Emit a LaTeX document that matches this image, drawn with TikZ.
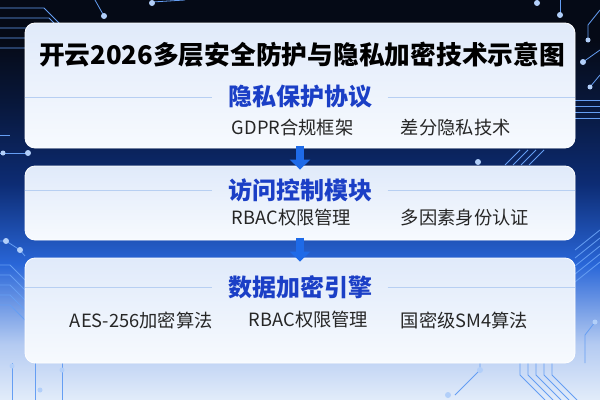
\documentclass[tikz,border=0pt]{standalone}
\usepackage{fontspec}
\setmainfont{Noto Sans CJK SC}
\usetikzlibrary{arrows.meta,positioning}

\definecolor{bgdark}{HTML}{050A16}
\definecolor{bgmid}{HTML}{0D2C74}
\definecolor{bgblue}{HTML}{2966D8}
\definecolor{bglight}{HTML}{E2ECFA}
\definecolor{tracecol}{HTML}{3F86F0}
\definecolor{headblue}{HTML}{1B3FC6}
\definecolor{arrowblue}{HTML}{1E6AE8}
\definecolor{panelA}{HTML}{E0EAFA}
\definecolor{panelB}{HTML}{F7FAFE}
\definecolor{sepcol}{HTML}{B7CFF2}

% the path is mapped onto 25bp..75bp of the shading
\pgfdeclareverticalshading{bgshade}{100bp}{color(0bp)=(bglight); color(25bp)=(bglight); color(32bp)=(bglight!75!bgblue); color(42bp)=(bgblue); color(52bp)=(bgmid); color(62bp)=(bgdark!60!bgmid); color(70bp)=(bgdark); color(100bp)=(bgdark)}

\tikzset{
	panel/.style={rounded corners=7.5pt, top color=panelA, bottom color=panelB, draw=white, line width=0.6pt, minimum width=412.5pt, inner sep=0pt},
	titletext/.style={font=\fontsize{19.3}{22}\selectfont\bfseries, text=black},
	headtext/.style={font=\fontsize{18}{21}\selectfont\bfseries, text=headblue},
	itemtext/.style={font=\fontsize{13.7}{16}\selectfont, text=black!85, anchor=west},
	sepline/.style={draw=sepcol, line width=0.6pt},
	flow/.style={draw=arrowblue, line width=5.5pt, -{Triangle[width=15pt,length=7.5pt]}, shorten <=-2pt, shorten >=-3pt},
	trace/.style={draw=tracecol!80, line width=0.6pt},
	glow/.style={fill=tracecol!40!white}}
\tikzset{every picture/.style={line width=0.75pt}}

\begin{document}
\begin{tikzpicture}[x=0.75pt,y=0.75pt,yscale=-1,xscale=1]
	\useasboundingbox (0,0) rectangle (600,400);

	% Background
	\shade[shading=bgshade] (0,0) rectangle (600,400);

	% Traces top left
	\foreach \y in {8,18,28,38,48} {
		\draw [trace] (0,\y) -- (40+\y/2,\y) -- (70+\y/2,\y+30) -- (70+\y/2,140) ;
	}
	\draw [trace] (95,0) -- (104,16) ;
	\draw [trace] (185,0) -- (152,2) ;
	\draw [trace] (0,135) -- (10,135) ;
	\draw [trace] (0,153) -- (28,153) ;
	\fill [glow] (104,16) circle (3) ;
	\fill [glow] (152,3) circle (3) ;
	\fill [glow] (3,153) circle (2.5) ;
	\fill [glow] (28,153) circle (3) ;

	% Traces top right
	\draw [trace] (537,0) -- (537,3) ;
	\draw [trace] (560,0) -- (560,15) ;
	\draw [trace] (600,10) -- (588,25) -- (588,40) ;
	\draw [trace] (600,50) -- (583,62) ;
	\draw [trace] (600,75) -- (590,87) ;
	\foreach \y in {100,106,112,118} {
		\draw [trace] (575,\y) -- (600,\y) ;
	}
	\foreach \x in {0,8,16,24} {
		\draw [trace] (520+\x,150) -- (505+\x,165) ;
	}
	\fill [glow] (537,3) circle (3) ;
	\fill [glow] (560,15) circle (3) ;
	\fill [glow] (588,40) circle (2.5) ;
	\fill [glow] (583,62) circle (3) ;
	\fill [glow] (590,87) circle (2.5) ;
	\fill [glow] (478,162) circle (3) ;

	% Traces lower left
	\draw [trace] (0,241) -- (6,241) -- (20,250) -- (25,256) ;
	\foreach \y in {265,275,285,295,305} {
		\draw [trace] (0,\y) -- (10,\y) -- (25,\y+15) ;
	}
	\foreach \x in {12,35,62} {
		\draw [trace] (\x,363) -- (\x,400) ;
	}
	\fill [glow] (6,241) circle (3) ;
	\fill [glow] (20,250) circle (3) ;
	\fill [glow] (12,366) circle (2.5) ;
	\fill [glow] (40,390) circle (2.5) ;
	\fill [glow] (62,370) circle (2.5) ;

	% Traces lower right
	\foreach \x in {0,8,16,24,32} {
		\draw [trace] (575,250+\x) -- (600,230+\x) ;
		\draw [trace] (520+\x,363) -- (520+\x,375) -- (545+\x,400) ;
	}
	\draw [trace] (480,363) -- (480,370) -- (455,395) ;
	\draw [trace] (595,322) -- (585,335) -- (585,363) ;
	\fill [glow] (480,370) circle (3) ;
	\fill [glow] (448,395) circle (3) ;
	\fill [glow] (595,322) circle (2.5) ;

	% Panels
	\node [panel, minimum height=93.75pt] (privpanel) at (300,85.5) {};
	\node [panel, minimum height=55.5pt] (accpanel) at (300,203) {};
	\node [panel, minimum height=78.75pt] (encpanel) at (300,310.5) {};

	% Title
	\node [titletext] (title) at (302,55) {开云2026多层安全防护与隐私加密技术示意图};

	% Privacy layer
	\node [headtext] (privhead) at (300,97) {隐私保护协议};
	\draw [sepline] (privpanel.west |- privhead) -- ([xshift=-8]privhead.west) ;
	\draw [sepline] ([xshift=8]privhead.east) -- (privpanel.east |- privhead) ;
	\node [itemtext] (gdpr) at (227,128) {GDPR合规框架};
	\node [itemtext] (diffpriv) at (396,128) {差分隐私技术};

	% Access layer
	\node [headtext] (acchead) at (300,190) {访问控制模块};
	\draw [sepline] (accpanel.west |- acchead) -- ([xshift=-8]acchead.west) ;
	\draw [sepline] ([xshift=8]acchead.east) -- (accpanel.east |- acchead) ;
	\node [itemtext] (rbac) at (227,218) {RBAC权限管理};
	\node [itemtext] (mfa) at (396,218) {多因素身份认证};

	% Encryption layer
	\node [headtext] (enchead) at (300,287) {数据加密引擎};
	\draw [sepline] (encpanel.west |- enchead) -- ([xshift=-8]enchead.west) ;
	\draw [sepline] ([xshift=8]enchead.east) -- (encpanel.east |- enchead) ;
	\node [itemtext] (aes) at (65,320) {AES-256加密算法};
	\node [itemtext] (rbactwo) at (244,320) {RBAC权限管理};
	\node [itemtext] (sm4) at (396,320) {国密级SM4算法};

	% Arrows
	\draw [flow] (privpanel.south) -- (accpanel.north) ;
	\draw [flow] (accpanel.south) -- (encpanel.north) ;

\end{tikzpicture}
\end{document}
